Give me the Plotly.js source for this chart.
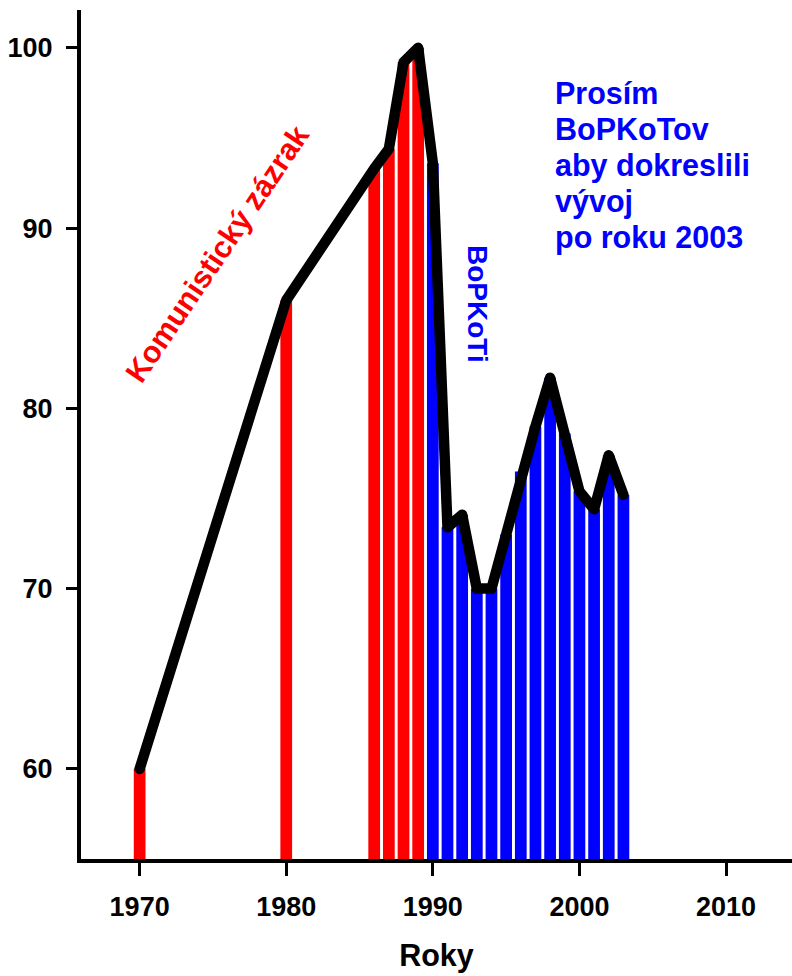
<!DOCTYPE html>
<html>
<head>
<meta charset="utf-8">
<script src="https://cdn.plot.ly/plotly-3.0.1.min.js"></script>
<style>
html,body{margin:0;padding:0;background:#fff;}
#chart{width:792px;height:976px;}
#chart .scatterlayer path.js-line{stroke-linejoin:round;stroke-linecap:round;}
</style>
</head>
<body>
<div id="chart"></div>
<script>
const years = [1970, 1980, 1986, 1987, 1988, 1989, 1990, 1991, 1992, 1993, 1994, 1995, 1996, 1997, 1998, 1999, 2000, 2001, 2002, 2003];
const values = [60, 86, 93.3, 94.4, 99.2, 100, 93.6, 73.4, 74.1, 70, 70, 73, 76.5, 79, 81.7, 78.6, 75.4, 74.4, 77.4, 75.2];
const xTicks = [1970, 1980, 1990, 2000, 2010];
const yTicks = [60, 70, 80, 90, 100];
const xTitle = "Roky";
const labelCommunist = "Komunistický zázrak";
const labelBopkoti = "BoPKoTi";
const labelRequest = ["Prosím", "BoPKoTov", "aby dokreslili", "vývoj", "po roku 2003"];

const RED = "#ff0000", BLUE = "#0000ff";
const FONT = "Liberation Sans, Arial, sans-serif";
const barColors = years.map(y => y < 1990 ? RED : BLUE);

const traces = [
  {
    type: "bar", x: years, y: values, base: 0,
    width: 0.8,
    marker: {color: barColors, line: {width: 0}},
    hoverinfo: "skip"
  },
  {
    type: "scatter", mode: "lines", x: years, y: values,
    line: {color: "#000", width: 10.5},
    hoverinfo: "skip"
  }
];

const requestAnnotations = labelRequest.map((t, i) => ({
  x: 1998.2, y: 97.5 - i * 2, xref: "x", yref: "y", showarrow: false,
  xanchor: "left", yanchor: "middle", align: "left",
  text: t,
  font: {family: FONT, size: 30.5, color: BLUE, weight: "bold"}
}));

const layout = {
  width: 792, height: 976,
  margin: {l: 81, r: 0, t: 10, b: 117},
  paper_bgcolor: "#fff", plot_bgcolor: "#fff",
  showlegend: false,
  xaxis: {
    range: [1966, 2014.5],
    tickvals: xTicks, ticktext: xTicks.map(String),
    ticks: "outside", ticklen: 13, tickwidth: 3, tickcolor: "#000",
    showline: true, linewidth: 4, linecolor: "#000",
    showgrid: false, zeroline: false,
    tickfont: {family: FONT, size: 27, color: "#000", weight: "bold"},
    ticklabelstandoff: 8,
    title: {text: xTitle, font: {family: FONT, size: 30.5, color: "#000", weight: "bold"}, standoff: 24}
  },
  yaxis: {
    range: [55, 102.1],
    tickvals: yTicks, ticktext: yTicks.map(String),
    ticks: "outside", ticklen: 11, tickwidth: 3, tickcolor: "#000",
    showline: true, linewidth: 4, linecolor: "#000",
    showgrid: false, zeroline: false,
    tickfont: {family: FONT, size: 27, color: "#000", weight: "bold"},
    ticklabelstandoff: 8
  },
  annotations: [
    {
      x: 1975.3, y: 88.6, xref: "x", yref: "y", showarrow: false,
      text: labelCommunist, textangle: -56,
      font: {family: FONT, size: 30.5, color: RED, weight: "bold"}
    },
    {
      x: 1993.0, y: 85.8, xref: "x", yref: "y", showarrow: false,
      text: labelBopkoti, textangle: 90,
      font: {family: FONT, size: 28, color: BLUE, weight: "bold"}
    }
  ].concat(requestAnnotations)
};

Plotly.newPlot("chart", traces, layout, {displayModeBar: false, staticPlot: true});
</script>
</body>
</html>
